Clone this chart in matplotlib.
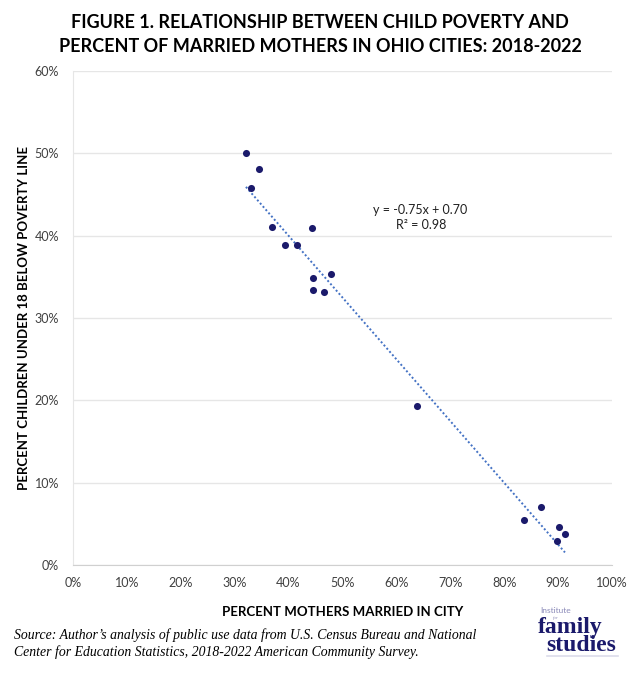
import matplotlib.pyplot as plt
import numpy as np
from matplotlib.ticker import PercentFormatter

plt.rcParams['font.family'] = ['Lato', 'DejaVu Sans']

# percent mothers married in city / percent children under 18 below poverty line
married = [0.321, 0.345, 0.330, 0.369, 0.443, 0.393, 0.416, 0.479, 0.445,
           0.445, 0.466, 0.638, 0.868, 0.837, 0.902, 0.913, 0.898]
poverty = [0.501, 0.481, 0.458, 0.411, 0.409, 0.389, 0.389, 0.354, 0.348,
           0.334, 0.332, 0.193, 0.070, 0.055, 0.046, 0.038, 0.029]

slope = -0.75
intercept = 0.70
r2 = 0.98

x_ticks = np.arange(0, 1.01, 0.1)
y_ticks = np.arange(0, 0.61, 0.1)

navy = '#1b1a6b'
grid_col = '#e6e6e6'

fig = plt.figure(figsize=(6.4, 6.73), dpi=100)
ax = fig.add_axes([0.114, 0.1605, 0.842, 0.734])

ax.scatter(married, poverty, s=26, color=navy, zorder=3, linewidths=0)

xs = np.array([min(married), max(married)])
ax.plot(xs, slope * xs + intercept, linestyle=(0, (1, 1.2)), color='#4472c4',
        linewidth=1.4, zorder=2)

ax.set_xlim(0, 1)
ax.set_ylim(0, 0.6)
ax.set_xticks(x_ticks)
ax.set_yticks(y_ticks)
ax.xaxis.set_major_formatter(PercentFormatter(1.0, decimals=0))
ax.yaxis.set_major_formatter(PercentFormatter(1.0, decimals=0))
ax.tick_params(length=0, labelsize=9, colors='#404040', pad=10)
ax.tick_params(axis='x', pad=9)
ax.grid(axis='y', color=grid_col, linewidth=1)
ax.set_axisbelow(True)
for s in ['top', 'right']:
    ax.spines[s].set_visible(False)
ax.spines['left'].set_color(grid_col)
ax.spines['bottom'].set_color('#d0d0d0')

ax.set_xlabel('PERCENT MOTHERS MARRIED IN CITY', fontsize=9.5,
              fontweight='bold', labelpad=12)
ax.set_ylabel('PERCENT CHILDREN UNDER 18 BELOW POVERTY LINE', fontsize=9.5,
              fontweight='bold', labelpad=3)

ax.text(0.645, 0.4315, f'y = {slope:.2f}x + {intercept:.2f}', fontsize=9,
        ha='center', va='center', color='#202020')
ax.text(0.647, 0.4125, f'R\u00b2 = {r2:.2f}', fontsize=9,
        ha='center', va='center', color='#202020')

fig.text(0.5, 0.966, 'FIGURE 1. RELATIONSHIP BETWEEN CHILD POVERTY AND',
         ha='center', va='center', fontsize=13, fontweight='bold')
fig.text(0.5, 0.931, 'PERCENT OF MARRIED MOTHERS IN OHIO CITIES: 2018-2022',
         ha='center', va='center', fontsize=13, fontweight='bold')

fig.text(0.022, 0.044, "Source: Author\u2019s analysis of public use data from U.S. Census Bureau and National\n"
         "Center for Education Statistics, 2018-2022 American Community Survey.",
         ha='left', va='center', fontsize=9.9, style='italic',
         family='Liberation Serif', linespacing=1.3)

# logo
fig.text(0.844, 0.089, 'Institute', fontsize=6, color='#8a89b8',
         ha='left', va='baseline')
fig.text(0.864, 0.080, 'for', fontsize=3.5, color='#8a89b8', style='italic',
         family='Liberation Serif', ha='left', va='baseline')
fig.text(0.841, 0.0594, 'family', fontsize=17, color=navy, fontweight='bold',
         family='Liberation Serif', ha='left', va='baseline')
fig.text(0.854, 0.0327, 'studies', fontsize=17, color=navy, fontweight='bold',
         family='Liberation Serif', ha='left', va='baseline')
fig.add_artist(plt.Line2D([0.855, 0.966], [0.0255, 0.0255], color='#dcdcea',
                          linewidth=1.2, transform=fig.transFigure))

fig.savefig('out.png', dpi=100)
